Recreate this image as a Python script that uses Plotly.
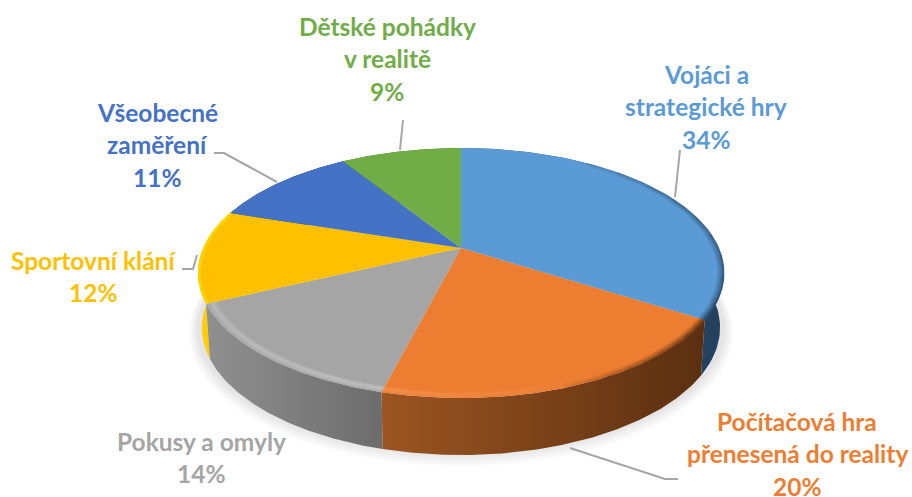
import numpy as np
import plotly.graph_objects as go

# ---- data ----
categories = ["Vojáci a strategické hry", "Počítačová hra přenesená do reality", "Pokusy a omyly",
              "Sportovní klání", "Všeobecné zaměření", "Dětské pohádky v realitě"]
percents = [34, 20, 14, 12, 11, 9]
colors = ["#5B9BD5", "#ED7D31", "#A5A5A5", "#FFC000", "#4472C4", "#70AD47"]
label_lines = [["Vojáci a", "strategické hry"], ["Počítačová hra", "přenesená do reality"], ["Pokusy a omyly"],
               ["Sportovní klání"], ["Všeobecné", "zaměření"], ["Dětské pohádky", "v realitě"]]
label_centers = [(706, 74), (797, 421), (201, 441), (93, 260), (157, 112), (387, 26)]
wall_left = ["#24425F", "#9C5522", "#909090", "#FFC000", "#2A4A80", "#4A7330"]
wall_right = ["#24425F", "#5A2F10", "#6C6C6C", "#FFD000", "#2A4A80", "#4A7330"]
leaders = [[(680, 150), (675, 197)], [(403, 120), (400, 150)], [(214, 153), (224, 153), (277, 182)],
           [(182, 269), (193, 269), (197, 255)], [(570, 448), (665, 479), (678, 479)]]

# ---- projection of the tilted pie to the page ----
CX, CY, C, A, K = 461, 248, 257.7, 120, 0.2
FONT = "Lato"


def project(theta, xs=1.0, ys=1.0, dz=0.0):
    u, v = np.sin(theta), np.cos(theta)
    d = 1 + K * v
    return CX + xs * C * u / d, CY + dz - ys * A * v / d


def arc(t0, t1, n=90, **kw):
    return project(np.linspace(t0, t1, n), **kw)


edges = np.cumsum([0] + percents) / sum(percents) * 2 * np.pi
fig = go.Figure()


def poly(x, y, color, opacity=1.0, grad=None):
    kw = dict(fillcolor=color)
    if grad:
        kw = dict(fillgradient=dict(type="horizontal", colorscale=[[0, grad[0]], [1, grad[1]]]))
    fig.add_trace(go.Scatter(x=x, y=y, mode="lines", fill="toself", line=dict(width=0),
                             opacity=opacity, hoverinfo="skip", showlegend=False, **kw))


def rim(t0, t1, color, o0, o1, s, w, nseg=10):
    ts = np.linspace(t0, t1, nseg + 1)
    os_ = np.linspace(o0, o1, nseg)
    for k in range(nseg):
        x, y = arc(ts[k], ts[k + 1], n=8, xs=s, ys=s)
        fig.add_trace(go.Scatter(x=x, y=y, mode="lines", line=dict(color=color, width=w),
                                 opacity=float(os_[k]), hoverinfo="skip", showlegend=False))


# soft shadow
for i in range(9):
    sx, sy = project(np.linspace(0, 2 * np.pi, 240), xs=1.035 - i * 0.004, ys=1.07 - i * 0.008, dz=58 - i * 0.3)
    poly(sx, sy, "#000000", opacity=0.010)

# walls, back to front
for i in [0, 3, 4, 5, 2, 1]:
    t0, t1 = edges[i], edges[i + 1]
    xt, yt = arc(t0, t1)
    xb, yb = arc(t0, t1, xs=0.985, ys=1.02, dz=54)
    px = np.r_[xt, xb[::-1]]
    py = np.r_[yt, yb[::-1]]
    if wall_left[i] == wall_right[i]:
        poly(px, py, wall_left[i])
    elif i == 3:
        poly(px, py, wall_left[i], grad=(wall_right[i], wall_left[i]))
    else:
        poly(px, py, wall_left[i], grad=(wall_left[i], wall_right[i]))

# top faces
for i in range(len(percents)):
    xt, yt = arc(edges[i], edges[i + 1])
    poly(np.r_[CX, xt], np.r_[CY, yt], colors[i])

# bevels along the rim
rad = np.deg2rad
for s, w, o in [(0.998, 2, 0.8), (0.992, 2.5, 0.5), (0.985, 2.5, 0.3), (0.978, 2.5, 0.15)]:
    rim(rad(25), edges[1], "#24425F", 0.0, o, s, w)
    rim(edges[1], rad(165), "#5A2F10", o, 0.0, s, w)
for s, w, o in [(0.992, 2.5, 0.12), (0.985, 2.5, 0.2), (0.978, 2.5, 0.3), (0.971, 2.5, 0.25), (0.964, 2.5, 0.12)]:
    rim(edges[3], edges[2], "#D4D4D4", o, o, s, w, nseg=4)
    rim(edges[2], rad(150), "#F8A060", o, 0.0, s, w)
rim(edges[3], edges[4], "#FFD800", 0.8, 0.8, 0.995, 3, nseg=4)

# leader lines
for line in leaders:
    fig.add_trace(go.Scatter(x=[p[0] for p in line], y=[p[1] for p in line], mode="lines",
                             line=dict(color="#A6A6A6", width=2), hoverinfo="skip", showlegend=False))

# labels
STEP = 32.5
for lines, pct, (lx, ly), col in zip(label_lines, percents, label_centers, colors):
    for j, t in enumerate(lines + [f"{pct}%"]):
        fig.add_annotation(x=lx, y=ly + j * STEP, text=f"<b>{t}</b>", showarrow=False,
                           xanchor="center", yanchor="middle",
                           font=dict(family=FONT, size=24.5, color=col))

fig.update_xaxes(range=[0, 912], visible=False, fixedrange=True)
fig.update_yaxes(range=[497, 0], visible=False, fixedrange=True)
fig.update_layout(width=912, height=497, margin=dict(l=0, r=0, t=0, b=0),
                  paper_bgcolor="white", plot_bgcolor="white", showlegend=False)
fig.write_html("out.html", config=dict(displayModeBar=False),
               post_script="document.body.style.margin='0';document.body.style.overflow='hidden';")
